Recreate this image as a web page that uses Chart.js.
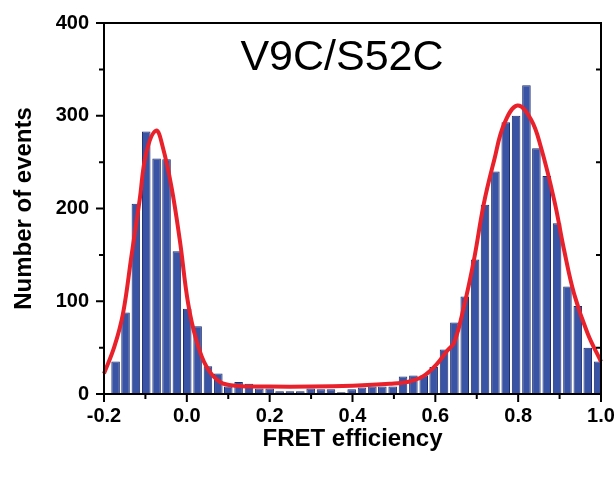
<!DOCTYPE html>
<html>
<head>
<meta charset="utf-8">
<script src="https://cdn.jsdelivr.net/npm/chart.js@4/dist/chart.umd.min.js"></script>
<style>
    html, body { margin: 0; padding: 0; background: #fff; }
    #wrap { width: 616px; height: 478px; }
</style>
</head>
<body>
<div id="wrap"><canvas id="ControlFretHistogram" width="616" height="478"></canvas></div>
<script>
// histogram bins (FRET efficiency, bin centres) and counts
var binCenters = [
    -0.172, -0.148, -0.123, -0.098, -0.073, -0.049, -0.024, 0.001,
    0.026, 0.051, 0.076, 0.100, 0.125, 0.150, 0.175, 0.200,
    0.224, 0.249, 0.274, 0.299, 0.324, 0.348, 0.373, 0.398,
    0.423, 0.448, 0.472, 0.497, 0.522, 0.547, 0.572, 0.596,
    0.621, 0.646, 0.671, 0.696, 0.720, 0.745, 0.770, 0.795,
    0.820, 0.844, 0.869, 0.894, 0.919, 0.944, 0.968, 0.993
];
var binCounts = [
    35, 88, 205, 283, 254, 253, 154, 92,
    73, 30, 22, 8, 13, 11, 6, 6,
    3, 3, 3, 6, 5, 5, 2, 5,
    7, 8, 8, 8, 19, 20, 20, 29,
    48, 77, 105, 145, 204, 240, 293, 300,
    333, 265, 235, 184, 116, 95, 50, 35
];

// red fit curve, sampled from the figure
var fitX = [
    -0.200, -0.175, -0.154, -0.134, -0.114, -0.098, -0.074, -0.058,
    -0.037, -0.017, 0.003, 0.023, 0.048, 0.080, 0.120, 0.200,
    0.300, 0.400, 0.490, 0.532, 0.570, 0.605, 0.629, 0.645,
    0.669, 0.693, 0.717, 0.742, 0.766, 0.798, 0.831, 0.855,
    0.887, 0.911, 0.935, 0.968, 1.000
];
var fitY = [
    22, 51, 87, 148, 209, 260, 284, 266,
    223, 166, 98, 58, 29, 13, 9, 8,
    8, 9, 11, 13, 19, 33, 47, 55,
    94, 144, 205, 252, 291, 311, 296, 266,
    209, 155, 108, 65, 35
];

var panelTitle = 'V9C/S52C';
var xAxisTitle = 'FRET efficiency';
var yAxisTitle = 'Number of events';

var fretChart = {

    initialize: function () {
        var ctx = document.getElementById('ControlFretHistogram').getContext('2d');

        var bars = [];
        for (var i = 0; i < binCenters.length; i++) {
            bars.push({ x: binCenters[i], y: binCounts[i] });
        }
        var fit = [];
        for (var j = 0; j < fitX.length; j++) {
            fit.push({ x: fitX[j], y: fitY[j] });
        }

        new Chart(ctx, {
            type: 'bar',
            data: {
                datasets: [{
                    type: 'line',
                    data: fit,
                    borderColor: '#e8212b',
                    borderWidth: 4,
                    pointRadius: 0,
                    tension: 0.4,
                    fill: false,
                    clip: false,
                    order: 0
                }, {
                    data: bars,
                    backgroundColor: '#3a54a5',
                    borderColor: '#1d2d6b',
                    borderWidth: 1,
                    barPercentage: 0.86,
                    categoryPercentage: 1,
                    order: 1
                }]
            },
            options: {
                responsive: false,
                animation: false,
                layout: { padding: { left: 0, right: 15, top: 23, bottom: 0 } },
                plugins: {
                    legend: { display: false },
                    tooltip: { enabled: false }
                },
                scales: {
                    x: {
                        type: 'linear',
                        min: -0.2,
                        max: 1.0,
                        offset: false,
                        grid: { display: false, drawTicks: false },
                        border: { display: false },
                        ticks: {
                            stepSize: 0.1,
                            padding: 10,
                            color: '#000',
                            maxRotation: 0,
                            autoSkip: false,
                            font: { family: 'Liberation Sans, Arial, sans-serif', size: 20, weight: 'bold' },
                            callback: function (value) {
                                var k = Math.round(value * 10);
                                return (k % 2 === 0) ? (k / 10).toFixed(1) : '';
                            }
                        },
                        title: {
                            display: true,
                            text: xAxisTitle,
                            color: '#000',
                            font: { family: 'Liberation Sans, Arial, sans-serif', size: 24, weight: 'bold' },
                            padding: { top: 0, bottom: 24 }
                        },
                        afterFit: function (scale) {
                            scale.height = 84;
                            scale.paddingLeft = 0;
                            scale.paddingRight = 0;
                        }
                    },
                    y: {
                        min: 0,
                        max: 400,
                        grid: { display: false, drawTicks: false },
                        border: { display: false },
                        ticks: {
                            stepSize: 50,
                            padding: 15,
                            color: '#000',
                            font: { family: 'Liberation Sans, Arial, sans-serif', size: 20, weight: 'bold' },
                            callback: function (value) {
                                return (value % 100 === 0) ? value : '';
                            }
                        },
                        title: {
                            display: true,
                            text: yAxisTitle,
                            color: '#000',
                            font: { family: 'Liberation Sans, Arial, sans-serif', size: 24, weight: 'bold' },
                            padding: { top: 10, bottom: 0 }
                        },
                        afterFit: function (scale) {
                            scale.width = 104;
                            scale.paddingTop = 0;
                            scale.paddingBottom = 0;
                        }
                    }
                }
            },
            plugins: [fretChart.framePlugin]
        });
    },

    // box frame, outward ticks on left/bottom, inward ticks on the right, and the panel label
    framePlugin: {
        id: 'framePlugin',
        afterDraw: function (chart) {
            var c = chart.ctx;
            var a = chart.chartArea;
            var xs = chart.scales.x;
            var ys = chart.scales.y;

            c.save();
            c.strokeStyle = '#000';
            c.lineWidth = 2;
            c.strokeRect(a.left, a.top, a.right - a.left, a.bottom - a.top);

            c.beginPath();
            xs.ticks.forEach(function (t) {
                var px = xs.getPixelForValue(t.value);
                var len = t.label === '' ? 5 : 8;
                c.moveTo(px, a.bottom);
                c.lineTo(px, a.bottom + len);
            });
            ys.ticks.forEach(function (t) {
                var py = ys.getPixelForValue(t.value);
                var len = t.label === '' ? 5 : 8;
                c.moveTo(a.left, py);
                c.lineTo(a.left - len, py);
                if (t.label === '') {
                    c.moveTo(a.right, py);
                    c.lineTo(a.right - 5, py);
                }
            });
            c.stroke();

            c.fillStyle = '#000';
            c.font = '43px "Liberation Sans", Arial, sans-serif';
            c.textAlign = 'center';
            c.textBaseline = 'alphabetic';
            c.fillText(panelTitle, 342, 70);
            c.restore();
        }
    }
};

fretChart.initialize();
</script>
</body>
</html>
